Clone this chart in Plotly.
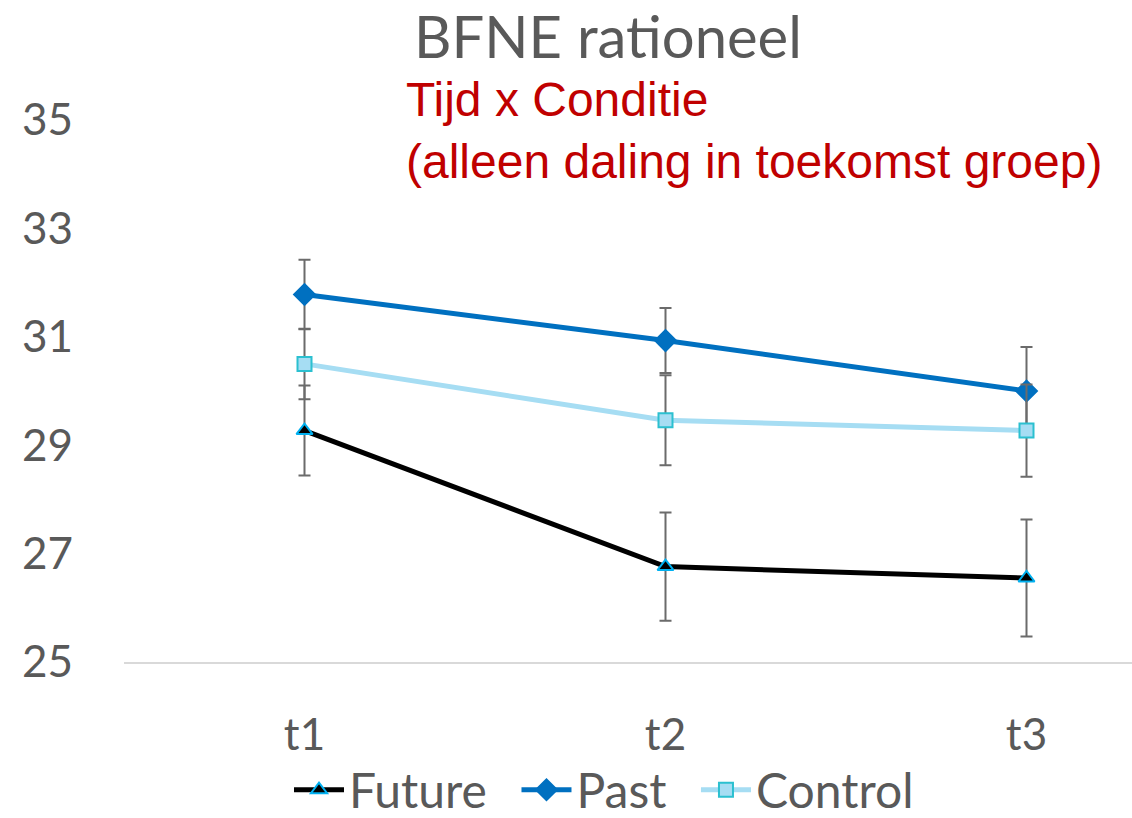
import plotly.graph_objects as go

categories = ["t1", "t2", "t3"]
future = [29.27, 26.76, 26.55]
future_err = [0.83, 1.00, 1.08]
past = [31.78, 30.93, 30.00]
past_err = [0.64, 0.60, 0.81]
control = [30.50, 29.46, 29.27]
control_err = [0.65, 0.83, 0.85]
y_ticks = [25, 27, 29, 31, 33, 35]

W, H = 1132, 818
L, R, T = 124, 0, 120
B = H - 662
pw, ph = W - L - R, H - T - B

def px(x):
    return (x - L) / pw

def py(y):
    return (H - B - y) / ph

gray = "#595959"
errc = "#6b6b6b"
pad = "\u00a0\u00a0"
fig = go.Figure()

def add(name, y, err, lc, sym, mfill, mline, msize):
    fig.add_trace(go.Scatter(
        x=categories, y=y, name=name + pad, mode="lines+markers",
        line=dict(color=lc, width=5),
        marker=dict(symbol=sym, size=msize, color=mfill, line=dict(color=mline, width=2)),
        error_y=dict(type="data", array=err, visible=True, color=errc, thickness=2, width=6),
    ))

add("Future", future, future_err, "#000000", "triangle-up", "#000000", "#00B0F0", 14)
add("Past", past, past_err, "#0070C0", "diamond", "#0070C0", "#0070C0", 16)
add("Control", control, control_err, "#A6DDF3", "square", "#A6DDF3", "#2BC0D0", 14)

fig.update_layout(
    width=W, height=H,
    margin=dict(l=L, r=R, t=T, b=B, autoexpand=False),
    plot_bgcolor="white", paper_bgcolor="white",
    font=dict(family="Lato", color=gray, size=42),
    showlegend=True,
    legend=dict(orientation="h", x=px(289), xanchor="left", y=py(790), yanchor="middle",
                font=dict(family="Lato", size=48, color=gray), itemwidth=50,
                tracegroupgap=0, bgcolor="rgba(0,0,0,0)"),
    xaxis=dict(type="category", range=[-0.5, -0.5 + pw / 361.0], showgrid=False,
               showline=True, linecolor="#d9d9d9", linewidth=2, zeroline=False,
               ticks="", ticklabelstandoff=33, tickfont=dict(size=44, color=gray)),
    yaxis=dict(range=[25, 35], tickvals=y_ticks, showgrid=False, zeroline=False,
               showline=False, ticks="", ticklabelstandoff=50,
               tickfont=dict(size=44, color=gray)),
    annotations=[
        dict(text="BFNE rationeel", x=px(608), y=1.0, yref="paper", xref="paper",
             yshift=T, showarrow=False, xanchor="center", yanchor="top", borderpad=0,
             font=dict(family="Lato", size=58, color=gray)),
        dict(text="Tijd x Conditie<br>(alleen daling in toekomst groep)", x=px(404), y=py(130),
             xref="paper", yref="paper", showarrow=False, xanchor="left", yanchor="middle",
             align="left", font=dict(family="Liberation Sans", size=48, color="#C00000")),
    ],
)
fig.write_html("out.html", config={"displayModeBar": False},
               post_script="document.body.style.margin='0px';")
